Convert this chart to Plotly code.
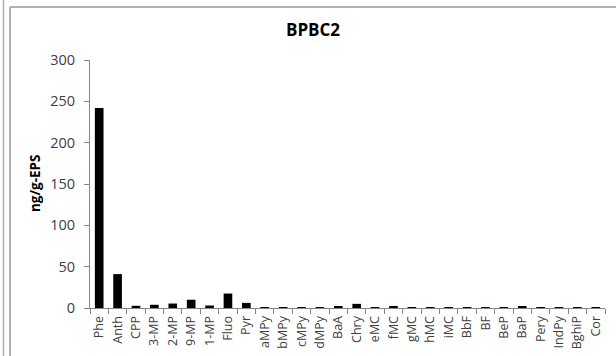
import plotly.graph_objects as go

categories = ["Phe", "Anth", "CPP", "3-MP", "2-MP", "9-MP", "1-MP", "Fluo", "Pyr",
              "aMPy", "bMPy", "cMPy", "dMPy", "BaA", "Chry", "eMC", "fMC", "gMC",
              "hMC", "iMC", "BbF", "BF", "BeP", "BaP", "Pery", "IndPy", "BghiP", "Cor"]
values = [242, 41, 2.7, 3.9, 5.4, 10, 3, 17.5, 6.2,
          0.5, 0.5, 0.5, 0.5, 1.5, 5, 1, 1.5, 0.5,
          0.5, 1.2, 1.2, 0.5, 1.2, 2, 0.5, 0.5, 1.2, 0.5]
y_ticks = [0, 50, 100, 150, 200, 250, 300]
title_text = "BPBC2"
y_title = "ng/g-EPS"

W, H = 616, 356
ML, MR, MT, MB = 90, 11, 60, 48
pw, ph = W - ML - MR, H - MT - MB

def px_x(p):
    return (p - ML) / pw

def px_y(p):
    return (H - MB - p) / ph

fig = go.Figure(go.Bar(x=categories, y=values, marker=dict(color="black", line=dict(width=0)),
                       showlegend=False))

font_family = "Open Sans, Liberation Sans, sans-serif"
fig.update_layout(
    width=W, height=H,
    margin=dict(l=ML, r=MR, t=MT, b=MB),
    paper_bgcolor="white", plot_bgcolor="white",
    bargap=0.53,
    font=dict(family=font_family, color="#404040", size=12),
    title=dict(text="<b>" + title_text + "</b>", x=313 / W, xanchor="center",
               y=1 - 30 / H, yanchor="middle", font=dict(size=17, color="#000000")),
    xaxis=dict(type="category", tickson="boundaries", ticks="outside", ticklen=5,
               tickcolor="#868686", showline=True, linecolor="#868686", linewidth=1,
               tickangle=-90, tickfont=dict(size=12.5, color="#404040"),
               ticklabelstandoff=2, automargin=False,
               showgrid=False, range=[-0.5, len(categories) - 0.5]),
    yaxis=dict(range=[0, 300], tickvals=y_ticks, ticks="outside", ticklen=5,
               tickcolor="#868686", showline=True, linecolor="#868686", linewidth=1,
               showgrid=False, zeroline=False, tickfont=dict(size=14.5, color="#404040"),
               ticklabelstandoff=6, automargin=False),
    annotations=[
        dict(text="<b>" + y_title + "</b>", xref="paper", yref="paper",
             x=px_x(35), y=px_y(183), xanchor="center", yanchor="middle",
             textangle=-90, showarrow=False, font=dict(size=13.5, color="#000000")),
    ],
    shapes=[
        dict(type="line", xref="paper", yref="paper", x0=px_x(10), x1=px_x(W + 5),
             y0=px_y(7), y1=px_y(7), line=dict(color="#b0b0b0", width=2)),
        dict(type="line", xref="paper", yref="paper", x0=px_x(10), x1=px_x(10),
             y0=px_y(7), y1=px_y(H + 5), line=dict(color="#b0b0b0", width=2)),
        dict(type="line", xref="paper", yref="paper", x0=px_x(3.5), x1=px_x(3.5),
             y0=px_y(0), y1=px_y(H + 5), line=dict(color="#b0b0b0", width=1.5)),
    ],
)

fig.write_html("out.html")
